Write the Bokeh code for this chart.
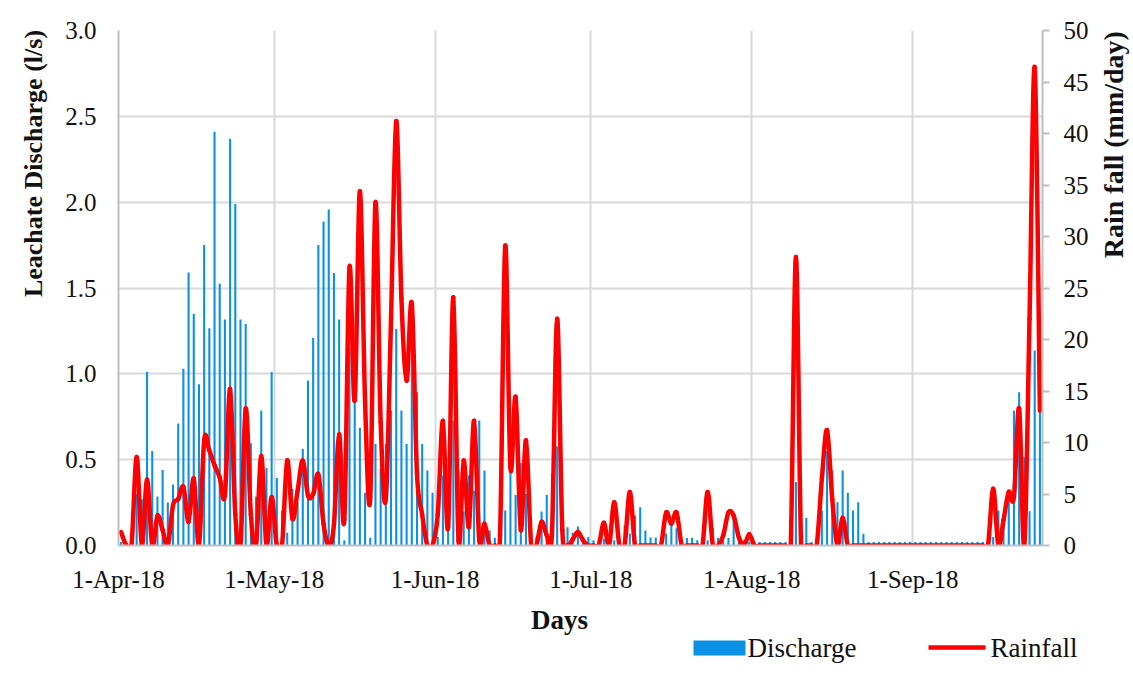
import numpy as np
import pandas as pd
from bokeh.plotting import figure
from bokeh.layouts import row, column
from bokeh.models import (Range1d, LinearAxis, FixedTicker, SingleIntervalTicker,
                          NumeralTickFormatter, ColumnDataSource)
from bokeh.core.properties import value
from bokeh.embed import file_html
from bokeh.resources import INLINE

# ---------------- data ----------------
start_date = "2018-04-01"

discharge = [
    0.02, 0.0, 0.0, 0.30, 0.27, 1.01, 0.55, 0.285, 0.44, 0.25,
    0.355, 0.71, 1.03, 1.59, 1.35, 0.94, 1.75, 1.265, 2.41, 1.525,
    1.316, 2.37, 1.99, 1.316, 1.29, 0.596, 0.285, 0.786, 0.452, 1.01,
    0.394, 0.204, 0.074, 0.33, 0.25, 0.563, 0.961, 1.21, 1.75, 1.887,
    1.957, 1.588, 1.316, 0.03, 1.15, 0.854, 0.686, 0.307, 0.045, 0.592,
    0.45, 0.592, 0.786, 1.262, 0.786, 0.592, 1.194, 0.893, 0.592, 0.437,
    0.307, 0.05, 0.408, 0.35, 0.728, 0.437, 0.2, 0.408, 0.32, 0.728,
    0.437, 0.087, 0.045, 0.02, 0.204, 0.45, 0.295, 0.48, 0.3, 0.087,
    0.05, 0.198, 0.295, 0.417, 0.578, 0.107, 0.107, 0.074, 0.11, 0.05,
    0.05, 0.03, 0.03, 0.04, 0.03, 0.03, 0.03, 0.117, 0.07, 0.175,
    0.223, 0.087, 0.047, 0.047, 0.03, 0.07, 0.117, 0.1, 0.03, 0.043,
    0.045, 0.03, 0.03, 0.03, 0.1, 0.045, 0.03, 0.043, 0.165, 0.062,
    0.03, 0.02, 0.02, 0.02, 0.02, 0.02, 0.02, 0.02, 0.02, 0.02,
    0.369, 0.1, 0.161, 0.02, 0.02, 0.204, 0.55, 0.437, 0.252, 0.437,
    0.307, 0.204, 0.252, 0.068, 0.02, 0.02, 0.02, 0.02, 0.02, 0.02,
    0.02, 0.02, 0.02, 0.02, 0.02, 0.02, 0.02, 0.02, 0.02, 0.02,
    0.02, 0.02, 0.02, 0.02, 0.02, 0.02, 0.02, 0.02, 0.05, 0.204,
    0.165, 0.31, 0.786, 0.893, 0.515, 0.2, 1.136, 0.786,
]

rainfall = [
    1.3, 0, 0, 8.6, 0, 6.4, 0, 2.9, 1.5, 0,
    3.9, 4.5, 5.7, 2.3, 6.5, 0, 10.2, 9.2, 7.8, 6.6,
    4.9, 15.2, 3, 0, 13.3, 3, 0, 8.7, 0, 4.7,
    0, 0, 8.25, 2.6, 5.3, 8.25, 4.85, 5.0, 6.9, 2.1,
    0, 2, 10.8, 2.5, 27.0, 14.1, 34.4, 14, 4.7, 33.3,
    12, 4.5, 22, 41.2, 24, 16.0, 23.5, 7, 3, 0,
    0, 3, 12.1, 1.8, 24.1, 0.5, 8.25, 1.8, 12.1, 0.5,
    2.1, 0, 0, 1, 29.1, 7.6, 14.4, 1.5, 10.2, 0,
    0, 2.3, 1.0, 1.1, 22.0, 1.5, 0, 0.6, 1.3, 0.5,
    0, 0, 0, 2.2, 0, 4.2, 0, 0, 5.2, 0,
    0, 0, 0, 0, 0, 3.2, 2.1, 3.2, 0, 0,
    0, 0, 0, 5.2, 0, 0, 1.0, 3.2, 2.9, 0.8,
    0, 1.1, 0, 0, 0, 0, 0, 0, 0, 0,
    28.0, 0, 0, 0, 0, 6.5, 11.2, 4.5, 0, 2.7,
    0, 0, 0, 0, 0, 0, 0, 0, 0, 0,
    0, 0, 0, 0, 0, 0, 0, 0, 0, 0,
    0, 0, 0, 0, 0, 0, 0, 0, 5.5, 0,
    2.5, 5.2, 4.7, 13.3, 0, 22, 46.4, 13.1,
]

tick_dates = ["2018-04-01", "2018-05-01", "2018-06-01", "2018-07-01", "2018-08-01", "2018-09-01"]
tick_labels = ["1-Apr-18", "1-May-18", "1-Jun-18", "1-Jul-18", "1-Aug-18", "1-Sep-18"]

y_title = "Leachate Discharge (l/s)"
y2_title = "Rain fall (mm/day)"
x_title = "Days"
series_names = ["Discharge", "Rainfall"]

# ---------------- style ----------------
BLUE = "#0a90e4"
RED = "#ff0000"
GRID = "#d9d9d9"
AXIS = "#bfbfbf"
TXT = "#111111"
FONT = "Liberation Serif"
FS = "25px"
TFS = "26px"
LFS = "27px"

n_days = len(discharge)
t0 = pd.Timestamp(start_date)
day_pos = np.arange(n_days) + 0.5           # centre of each day
tick_pos = [int((pd.Timestamp(d) - t0).days) for d in tick_dates]

# layout geometry (px)
LEFT_W, RIGHT_W = 48, 33
MAIN_W, MAIN_H = 1049, 600
BOT_H = 75


def blank(w, h, xr, yr):
    f = figure(width=w, height=h, output_backend="svg", toolbar_location=None,
               x_range=Range1d(*xr), y_range=Range1d(*yr),
               min_border=0, min_border_left=0, min_border_right=0,
               min_border_top=0, min_border_bottom=0)
    f.axis.visible = False
    f.grid.visible = False
    f.outline_line_color = None
    f.background_fill_color = "white"
    f.border_fill_color = "white"
    return f


# ---------------- main chart ----------------
p = figure(width=MAIN_W, height=MAIN_H, output_backend="svg", toolbar_location=None,
           x_range=Range1d(0, n_days), y_range=Range1d(0, 3.0),
           min_border_left=70, min_border_right=55, min_border_top=30, min_border_bottom=55)
p.extra_y_ranges = {"rain": Range1d(0, 50)}
p.outline_line_color = None
p.background_fill_color = "white"
p.border_fill_color = "white"

src = ColumnDataSource(dict(x=day_pos, q=discharge, r=rainfall))
bars = p.vbar(x="x", top="q", width=0.4, source=src, fill_color=BLUE, line_color=None)

# smoothed rainfall line (Excel-like smoothed line: cubic Bezier per segment)
xs = np.asarray(day_pos, dtype=float)
ys = np.asarray(rainfall, dtype=float)
xp = np.concatenate([[xs[0]], xs, [xs[-1]]])
yp = np.concatenate([[ys[0]], ys, [ys[-1]]])
seg = dict(
    x0=xs[:-1], y0=ys[:-1], x1=xs[1:], y1=ys[1:],
    cx0=xs[:-1] + (xp[2:-1] - xp[:-3]) / 6.0,
    cy0=ys[:-1] + (yp[2:-1] - yp[:-3]) / 6.0,
    cx1=xs[1:] - (xp[3:] - xp[1:-2]) / 6.0,
    cy1=ys[1:] - (yp[3:] - yp[1:-2]) / 6.0,
)
p.bezier(source=ColumnDataSource(seg), x0="x0", y0="y0", x1="x1", y1="y1",
         cx0="cx0", cy0="cy0", cx1="cx1", cy1="cy1",
         line_color=RED, line_width=4.5, line_cap="round", y_range_name="rain")


def style_axis(ax):
    ax.axis_line_color = AXIS
    ax.axis_line_width = 2
    ax.minor_tick_line_color = None
    ax.major_label_text_font = FONT
    ax.major_label_text_font_size = FS
    ax.major_label_text_color = TXT


xa = p.xaxis[0]
style_axis(xa)
xa.ticker = FixedTicker(ticks=tick_pos)
xa.major_label_overrides = {t: l for t, l in zip(tick_pos, tick_labels)}
xa.major_tick_out = 0
xa.major_tick_in = 0
xa.major_label_standoff = 20

ya = p.yaxis[0]
style_axis(ya)
ya.ticker = SingleIntervalTicker(interval=0.5)
ya.formatter = NumeralTickFormatter(format="0.0")
ya.major_tick_out = 0
ya.major_tick_in = 0
ya.major_label_standoff = 18

ra = LinearAxis(y_range_name="rain", ticker=SingleIntervalTicker(interval=5))
style_axis(ra)
ra.major_tick_out = 7
ra.major_tick_in = 0
ra.major_tick_line_color = AXIS
ra.major_tick_line_width = 2
ra.major_label_standoff = 14
p.add_layout(ra, "right")

p.xgrid.ticker = FixedTicker(ticks=tick_pos)
p.xgrid.grid_line_color = GRID
p.xgrid.grid_line_width = 2
p.ygrid.grid_line_color = GRID
p.ygrid.grid_line_width = 2

# ---------------- side strips carrying the titles ----------------
# (ranges are in pixels of each strip, y measured downward)
pl = blank(LEFT_W, MAIN_H, (0, LEFT_W), (MAIN_H, 0))
pl.text(x=[33], y=[155], text=[y_title], angle=np.pi / 2,
        text_font=value(FONT), text_font_size=value(TFS), text_font_style=value("bold"),
        text_color=TXT, text_align="center", text_baseline="middle")

pr = blank(RIGHT_W, MAIN_H, (0, RIGHT_W), (MAIN_H, 0))
pr.text(x=[16], y=[133], text=[y2_title], angle=np.pi / 2,
        text_font=value(FONT), text_font_size=value("28px"), text_font_style=value("bold"),
        text_color=TXT, text_align="center", text_baseline="middle")

# ---------------- bottom strip: x title and legend ----------------
TOTAL_W = LEFT_W + MAIN_W + RIGHT_W
pb = blank(TOTAL_W, BOT_H, (0, TOTAL_W), (BOT_H, 0))
pb.text(x=[559], y=[19], text=[x_title],
        text_font=value(FONT), text_font_size=value(LFS), text_font_style=value("bold"),
        text_color=TXT, text_align="center", text_baseline="middle")
# legend keys
pb.quad(left=[693], right=[745], top=[40], bottom=[55], fill_color=BLUE, line_color=None)
pb.segment(x0=[928], y0=[47], x1=[985], y1=[47], line_color=RED, line_width=4.5)
pb.text(x=[747, 990], y=[47, 47], text=series_names,
        text_font=value(FONT), text_font_size=value(LFS),
        text_color=TXT, text_align="left", text_baseline="middle")

layout = column(row(pl, p, pr, spacing=0), pb, spacing=0)
open("out.html", "w").write(file_html(layout, INLINE))
